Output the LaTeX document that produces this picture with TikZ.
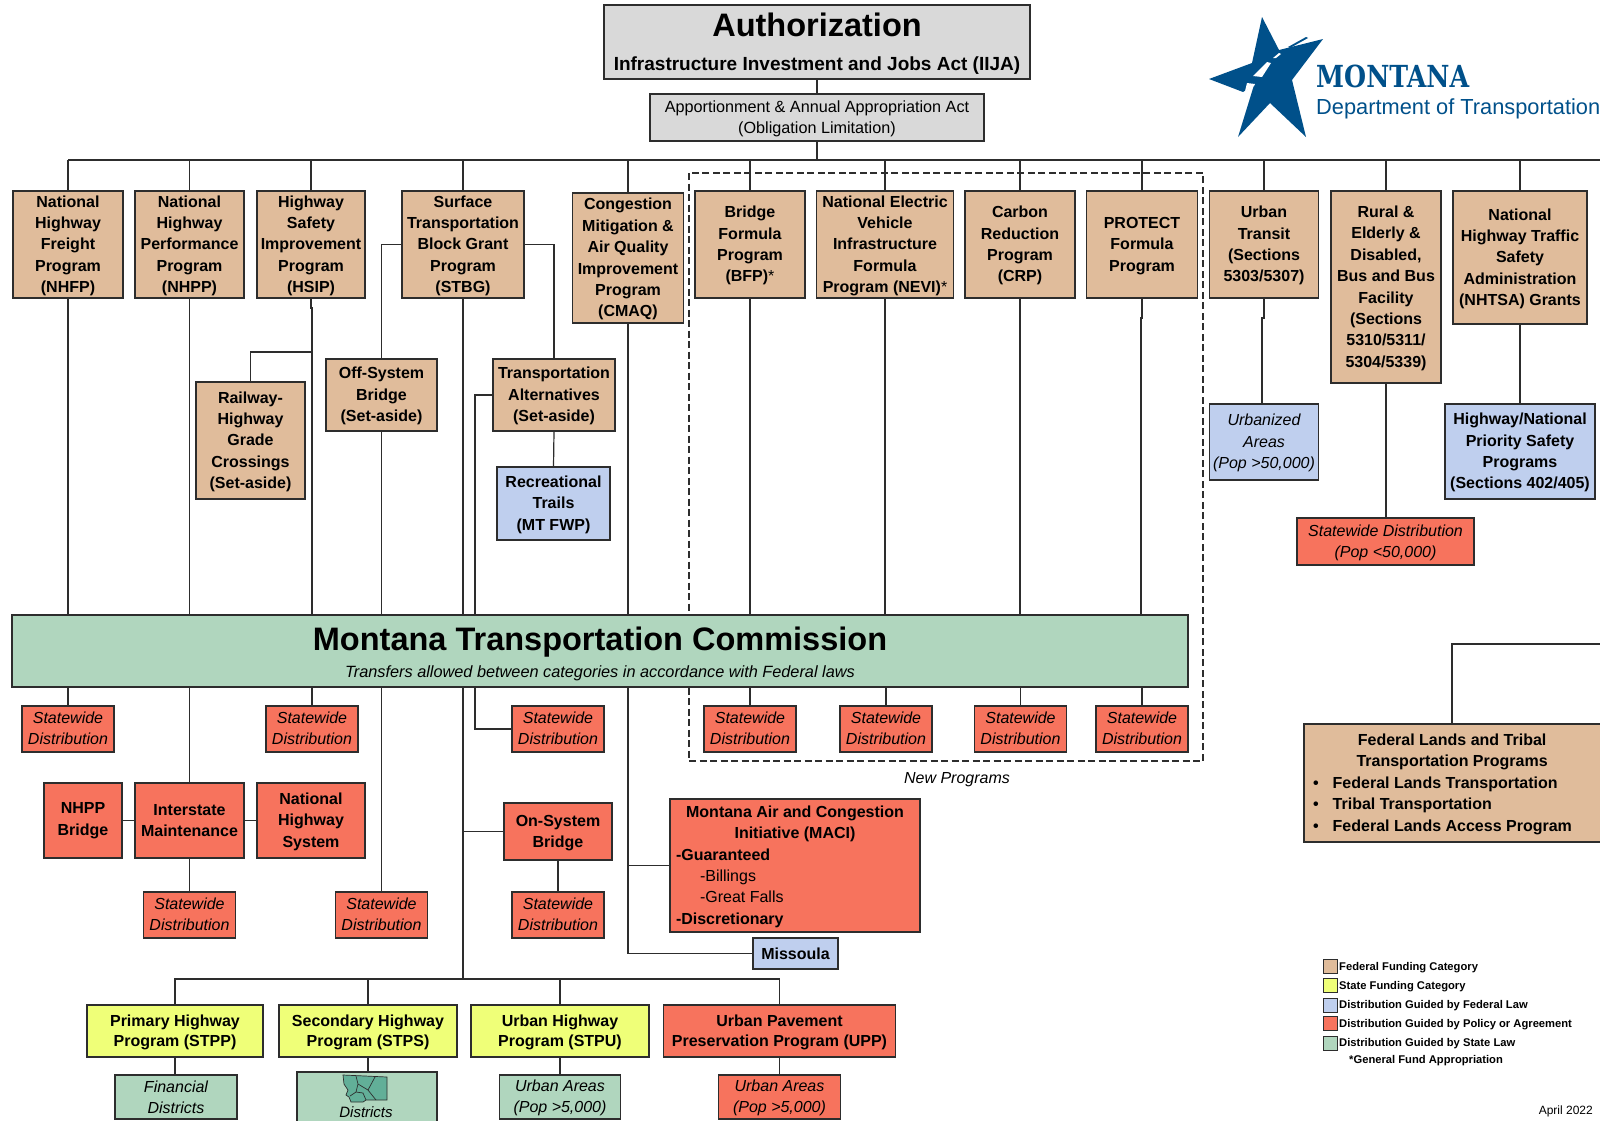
\documentclass[tikz,border=0pt]{standalone}
\usepackage{fontspec}
\usepackage{tikz}
\setmainfont{Liberation Sans}
\newfontfamily\slabfont{DejaVu Serif}
\definecolor{cafecito}{RGB}{224,188,155}
\definecolor{amarillito}{RGB}{239,255,120}
\definecolor{celestito}{RGB}{191,207,238}
\definecolor{naranjito}{RGB}{247,115,93}
\definecolor{verdecito}{RGB}{176,214,190}
\definecolor{marinito}{RGB}{0,80,138}
\definecolor{grisito}{RGB}{217,217,217}
\definecolor{mapita}{RGB}{98,175,152}
\definecolor{lineita}{RGB}{45,45,45}
\newcommand{\lowr}{\rule{0pt}{14pt}}
\newcommand{\sdlabel}{Statewide\\Distribution\rule[-2pt]{0pt}{2pt}}
\tikzset{
	sz/.style 2 args={minimum width=#1pt, minimum height=#2pt},
	basebox/.style={draw=lineita, line width=1.2pt, inner sep=0pt, outer sep=0pt, align=center, font=\fontsize{16}{21.4}\selectfont},
	fedbox/.style={basebox, fill=cafecito, font=\fontsize{16}{21.4}\selectfont\bfseries},
	statebox/.style={basebox, fill=amarillito, font=\fontsize{16}{20.5}\selectfont\bfseries},
	lawbox/.style={basebox, fill=celestito, font=\fontsize{16}{21.4}\selectfont\bfseries},
	policybox/.style={basebox, fill=naranjito, font=\fontsize{16}{21.4}\selectfont\bfseries},
	guidebox/.style={basebox, fill=verdecito, font=\fontsize{16}{21.2}\selectfont\itshape},
	statewide/.style={basebox, fill=naranjito, sz={92}{46}, font=\fontsize{16}{21.2}\selectfont\itshape},
	swatch/.style={draw=lineita, line width=1pt, inner sep=0pt, outer sep=0pt, minimum size=14pt},
	legendtext/.style={inner sep=0pt, anchor=west, font=\fontsize{11.2}{13}\selectfont\bfseries},
	conn/.style={draw=lineita, line width=1.2pt},
}

\begin{document}
\begin{tikzpicture}[x=1pt,y=-1pt]
	\useasboundingbox (0,0) rectangle (1600,1120);
	\draw [line width=1.2pt, dash pattern=on 7pt off 3.5pt, draw=lineita] (689,173) rectangle (1203,761);
	%authorization
	\node [basebox, fill=grisito, sz={426}{74}, font=\fontsize{19}{34}\selectfont\bfseries] (auth) at (817,42) {\rule{0pt}{26pt}{\fontsize{32.5}{34}\selectfont Authorization}\\Infrastructure Investment and Jobs Act (IIJA)};
	\node [basebox, fill=grisito, sz={334}{47}, font=\fontsize{16.2}{20.5}\selectfont] (appro) at (817,117.5) {\lowr Apportionment \& Annual Appropriation Act\\(Obligation Limitation)};
	\coordinate (busleft) at (68,160);
	\coordinate (busright) at (1600,160);
	\coordinate (busmid) at (817,160);
	%top row
	\node [fedbox, sz={110}{107}] (nhfp) at (68,244.5) {\lowr National\\Highway\\Freight\\Program\\(NHFP)};
	\node [fedbox, sz={109}{107}] (nhpp) at (189.5,244.5) {\lowr National\\Highway\\Performance\\Program\\(NHPP)};
	\node [fedbox, sz={108}{107}] (hsip) at (311,244.5) {\lowr Highway\\Safety\\Improvement\\Program\\(HSIP)};
	\node [fedbox, sz={122}{107}] (stbg) at (463,244.5) {\lowr Surface\\Transportation\\Block Grant\\Program\\(STBG)};
	\node [fedbox, sz={111}{130}] (cmaq) at (628,258) {\lowr Congestion\\Mitigation \&\\Air Quality\\Improvement\\Program\\(CMAQ)};
	\node [fedbox, sz={110}{107}] (bfp) at (750,244.5) {\lowr Bridge\\Formula\\Program\\(BFP)\textmd{*}};
	\node [fedbox, sz={137}{107}] (nevi) at (885,244.5) {\lowr National Electric\\Vehicle\\Infrastructure\\Formula\\Program (NEVI)\textmd{*}};
	\node [fedbox, sz={110}{107}] (crp) at (1020,244.5) {\lowr Carbon\\Reduction\\Program\\(CRP)};
	\node [fedbox, sz={111}{107}] (protect) at (1142,244.5) {\lowr PROTECT\\Formula\\Program};
	\node [fedbox, sz={109}{107}] (transit) at (1264,244.5) {\lowr Urban\\Transit\\(Sections\\5303/5307)};
	\node [fedbox, sz={110}{192}] (rural) at (1386,287) {\lowr Rural \&\\Elderly \&\\Disabled,\\Bus and Bus\\Facility\\(Sections\\5310/5311/\\5304/5339)};
	\node [fedbox, sz={134}{133}] (nhtsa) at (1520,257.5) {\lowr National\\Highway Traffic\\Safety\\Administration\\(NHTSA) Grants};
	%set-asides
	\node [fedbox, sz={109}{117}] (railway) at (250.5,440.5) {\lowr Railway-\\Highway\\Grade\\Crossings\\(Set-aside)};
	\node [fedbox, sz={111}{72}] (offsys) at (381.5,395) {\lowr Off-System\\Bridge\\(Set-aside)};
	\node [fedbox, sz={122}{72}] (transalt) at (554,395) {\lowr Transportation\\Alternatives\\(Set-aside)};
	\node [lawbox, sz={113}{73}] (rectrails) at (553.5,503.5) {\lowr Recreational\\Trails\\(MT FWP)};
	\node [lawbox, sz={109}{76}, font=\fontsize{16}{21.4}\selectfont\itshape] (urbanized) at (1264,442) {\lowr Urbanized\\Areas\\(Pop >50,000)};
	\node [lawbox, sz={150}{95}] (hwysafety) at (1520,451.5) {\lowr Highway/National\\Priority Safety\\Programs\\(Sections 402/405)};
	\node [statewide, sz={177}{47}, font=\fontsize{16}{20.5}\selectfont\itshape] (sdrural) at (1385.5,541.5) {\lowr Statewide Distribution\\(Pop <50,000)};
	%commission
	\node [guidebox, sz={1176}{72}, font=\fontsize{16.3}{27}\selectfont\itshape] (mtc) at (600,651) {\rule{0pt}{30pt}{\fontsize{32.5}{27}\selectfont\bfseries\upshape Montana Transportation Commission}\\Transfers allowed between categories in accordance with Federal laws};
	%statewide distributions
	\node [statewide] (sdnhfp) at (68,729) {\sdlabel};
	\node [statewide] (sdhsip) at (312,729) {\sdlabel};
	\node [statewide] (sdta) at (558,729) {\sdlabel};
	\node [statewide] (sdbfp) at (750,729) {\sdlabel};
	\node [statewide] (sdnevi) at (886,729) {\sdlabel};
	\node [statewide] (sdcrp) at (1020.5,729) {\sdlabel};
	\node [statewide] (sdprotect) at (1142,729) {\sdlabel};
	\node [statewide] (sdim) at (189.5,915) {\sdlabel};
	\node [statewide] (sdoff) at (381.5,915) {\sdlabel};
	\node [statewide] (sdon) at (558,915) {\sdlabel};
	\node [font=\fontsize{16}{20}\selectfont\itshape, inner sep=0pt] (newprog) at (957,780) {New Programs};
	%below the commission
	\node [policybox, sz={78}{75}] (nhppb) at (83,820.5) {NHPP\\Bridge};
	\node [policybox, sz={109}{75}] (im) at (189.5,820.5) {Interstate\\Maintenance};
	\node [policybox, sz={108}{75}] (nhs) at (311,820.5) {\lowr National\\Highway\\System};
	\node [policybox, sz={108}{57}] (onsys) at (558,831.5) {\lowr On-System\\Bridge};
	\node [policybox, sz={250}{133}, align=left, font=\fontsize{16}{21.4}\selectfont] (maci) at (795,865.5) {\lowr\bfseries\makebox[238pt][c]{Montana Air and Congestion}\\\bfseries\makebox[238pt][c]{Initiative (MACI)}\\\bfseries -Guaranteed\\\hspace*{24pt}-Billings\\\hspace*{24pt}-Great Falls\\\bfseries -Discretionary};
	\node [lawbox, sz={85}{31}] (missoula) at (795.5,953.5) {Missoula};
	\coordinate (busbottom) at (463,979);
	\node [statebox, sz={176}{52}] (stpp) at (175,1031) {\lowr Primary Highway\\Program (STPP)};
	\node [statebox, sz={178}{52}] (stps) at (368,1031) {\lowr Secondary Highway\\Program (STPS)};
	\node [statebox, sz={178}{52}] (stpu) at (560,1031) {\lowr Urban Highway\\Program (STPU)};
	\node [policybox, sz={232}{52}, font=\fontsize{16}{20.5}\selectfont\bfseries] (upp) at (779.5,1031) {\lowr Urban Pavement\\Preservation Program (UPP)};
	\node [guidebox, sz={122}{44}] (findist) at (176,1097) {Financial\\Districts};
	\node [guidebox, sz={140}{60}] (dist) at (367,1102) {};
	\node [inner sep=0pt, font=\fontsize{15}{18}\selectfont\itshape] (distlabel) at (366,1112) {Districts};
	\node [guidebox, sz={121}{44}] (urbareas) at (560,1097) {\lowr Urban Areas\\(Pop >5,000)};
	\node [policybox, sz={122}{44}, font=\fontsize{16}{21.2}\selectfont\itshape] (uppareas) at (779.5,1097) {\lowr Urban Areas\\(Pop >5,000)};
	%district map
	\draw [fill=mapita, draw=lineita, line width=.7pt] (343,1075) -- (387,1077) -- (387,1100) -- (366,1100) -- (363,1102) -- (351,1102) -- (349,1097) -- (346,1095) -- (348,1090) -- (344,1084) -- cycle;
	\draw [draw=lineita, line width=.7pt] (356,1076) -- (358,1084) -- (356,1092) -- (363,1093) -- (366,1100) (358,1084) -- (368,1090) -- (375,1077) (368,1090) -- (376,1100) (356,1092) -- (350,1096);
	%federal lands
	\node [fedbox, sz={310}{118}, align=left] (fedlands) at (1459,783) {\lowr\hspace*{5pt}\makebox[274pt][c]{Federal Lands and Tribal}\\\hspace*{5pt}\makebox[274pt][c]{Transportation Programs}\\\hspace*{3pt}\textbullet\hspace{14pt}Federal Lands Transportation\\\hspace*{3pt}\textbullet\hspace{14pt}Tribal Transportation\\\hspace*{3pt}\textbullet\hspace{14pt}Federal Lands Access Program\hspace*{36pt}};
	\coordinate (fedexit) at (1600,644);
	%connectors
	\draw [conn] (auth.south) -- (appro.north);
	\draw [conn] (appro.south) -- (busmid);
	\draw [conn] (busleft) -- (busright);
	\foreach \boxname in {nhfp,nhpp,hsip,stbg,cmaq,bfp,nevi,crp,protect,transit,rural,nhtsa}
		\draw [conn] (\boxname.north) -- (\boxname.north |- busmid);
	\foreach \boxname in {nhfp,nhpp,stbg,cmaq,bfp,nevi,crp,offsys}
		\draw [conn] (\boxname.south) -- (\boxname.south |- mtc.north);
	%small jogs
	\draw [conn] (hsip.south) -- ++(0,10) -- ++(1,0) -- (312,615);
	\draw [conn] (protect.south) -- ++(0,20) -- ++(-1,0) -- (1141,615);
	\draw [conn] (transit.south) -- ++(0,20) -- ++(-2,0) -- (urbanized.north -| 1262,0);
	\coordinate (hsipjog) at (312,352);
	\draw [conn] (railway.north) |- (hsipjog);
	\draw [conn] (stbg.west) -| (offsys.north);
	\draw [conn] (stbg.east) -| (transalt.north);
	\coordinate (tafoot) at (475,615);
	\draw [conn] (transalt.west) -| (tafoot);
	\draw [conn] (transalt.south) -- (rectrails.north);
	\draw [conn] (rural.south) -- (sdrural.north -| rural.south);
	\draw [conn] (nhtsa.south) -- (hwysafety.north);
	\foreach \boxname in {sdnhfp,sdhsip,sdbfp,sdnevi,sdcrp,sdprotect}
		\draw [conn] (\boxname.north) -- (\boxname.north |- mtc.south);
	\coordinate (tahead) at (475,687);
	\draw [conn] (tahead) |- (sdta.west);
	\draw [conn] (im.north) -- (im.north |- mtc.south);
	\draw [conn] (nhppb.east) -- (im.west);
	\draw [conn] (im.east) -- (nhs.west);
	\draw [conn] (im.south) -- (sdim.north);
	\draw [conn] (sdoff.north) -- (sdoff.north |- mtc.south);
	\draw [conn] (onsys.south) -- (sdon.north);
	\draw [conn] (busbottom) -- (busbottom |- mtc.south);
	\draw [conn] (onsys.west) -- (onsys.west -| busbottom);
	\draw [conn] (cmaq.south |- mtc.south) |- (missoula.west);
	\draw [conn] (maci.west) -- (maci.west -| cmaq.south);
	\draw [conn] (stpp.north) |- (upp.north |- busbottom) -- (upp.north);
	\draw [conn] (stps.north) -- (stps.north |- busbottom);
	\draw [conn] (stpu.north) -- (stpu.north |- busbottom);
	\draw [conn] (stpp.south) -- (findist.north -| stpp.south);
	\draw [conn] (stps.south) -- (dist.north -| stps.south);
	\draw [conn] (stpu.south) -- (urbareas.north);
	\draw [conn] (upp.south) -- (uppareas.north);
	\draw [conn] (fedlands.north -| 1452,0) |- (fedexit);
	%legend
	\node [swatch, fill=cafecito] (swfed) at (1330,966.5) {};
	\node [swatch, fill=amarillito] (swstate) at (1330,985.5) {};
	\node [swatch, fill=celestito] (swlaw) at (1330,1005) {};
	\node [swatch, fill=naranjito] (swpolicy) at (1330,1023.5) {};
	\node [swatch, fill=verdecito] (swguide) at (1330,1043) {};
	\node [legendtext] (ltfed) at (1339,968) {Federal Funding Category};
	\node [legendtext] (ltstate) at (1339,987) {State Funding Category};
	\node [legendtext] (ltlaw) at (1339,1006) {Distribution Guided by Federal Law};
	\node [legendtext] (ltpolicy) at (1339,1024.5) {Distribution Guided by Policy or Agreement};
	\node [legendtext] (ltguide) at (1339,1044) {Distribution Guided by State Law};
	\node [legendtext] (ltgeneral) at (1349,1061) {*General Fund Appropriation};
	\node [inner sep=0pt, anchor=east, font=\fontsize{12}{13}\selectfont] (aprilnote) at (1593,1111) {April 2022};
	%logo
	\fill [marinito] (1262,17) -- (1279,50) -- (1323,39) -- (1292,80) -- (1306,137) -- (1270,103) -- (1238,137) -- (1254,85) -- (1243,92) -- (1209,79) -- (1252,63) -- cycle;
	\fill [white] (1267,62) -- (1271,63) -- (1262,77) -- (1253,76) -- cycle;
	\fill [white] (1273,58) -- (1279,53) -- (1281,54) -- (1276,58) -- cycle;
	\fill [white] (1247,83) -- (1255,84) -- (1254,86) -- (1245,91) -- cycle;
	\fill [marinito] (1288,47) -- (1306,37) -- (1308,38) -- (1290,48) -- cycle;
	\node [inner sep=0pt, anchor=base west, text=marinito, font=\fontsize{25.3}{30}\slabfont\bfseries] (mdtname) at (1316,87) {\scalebox{1}[1.2]{MONTANA}};
	\node [inner sep=0pt, anchor=base west, text=marinito, font=\fontsize{21.8}{26}\selectfont] (mdtdept) at (1316,114) {Department of Transportation};
\end{tikzpicture}
\end{document}
